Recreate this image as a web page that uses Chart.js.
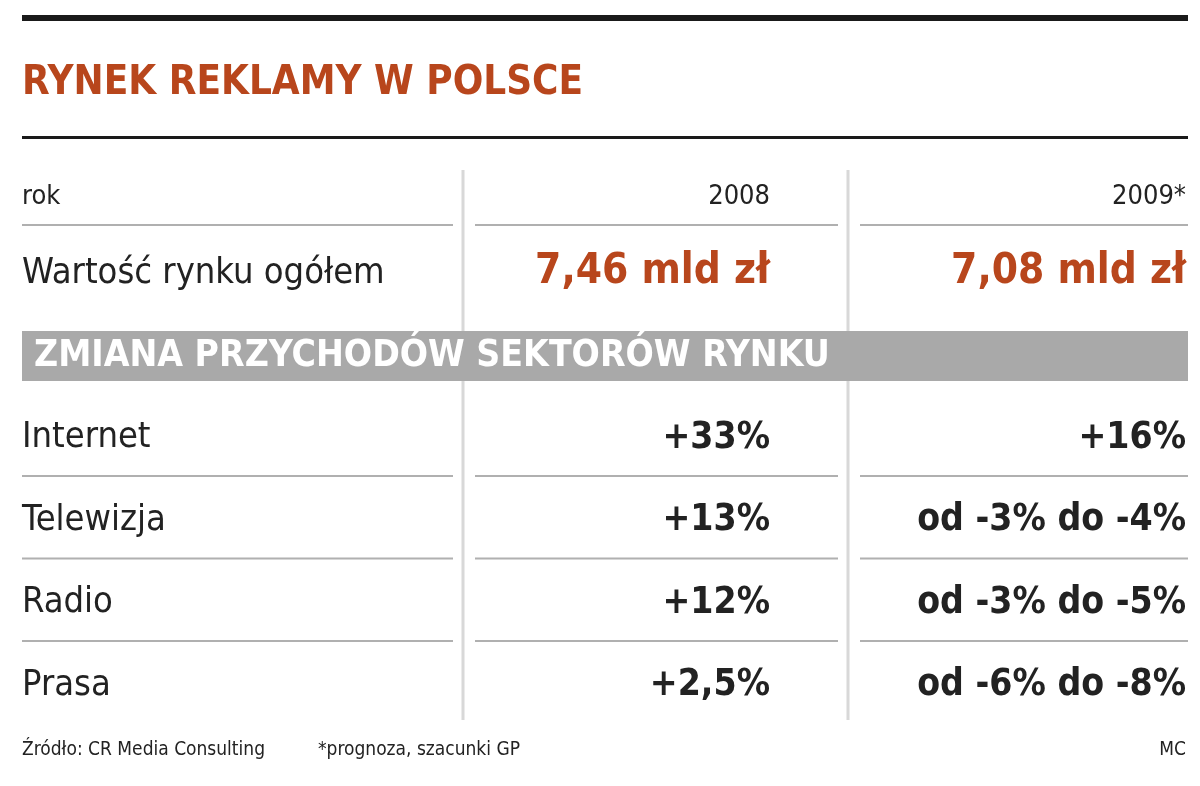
<!DOCTYPE html>
<html><head><meta charset="utf-8">
<script src="https://cdn.jsdelivr.net/npm/chart.js@4"></script>
<style>html,body{margin:0;background:#fff}canvas{display:block}</style>
</head><body>
<canvas id="chart" width="1200" height="786"></canvas>
<script>
const title = "RYNEK REKLAMY W POLSCE";
const years = ["2008", "2009*"];
const totals = ["7,46 mld zł", "7,08 mld zł"];
const sectionLabel = "ZMIANA PRZYCHODÓW SEKTORÓW RYNKU";
const sectors = ["Internet", "Telewizja", "Radio", "Prasa"];
const change2008 = ["+33%", "+13%", "+12%", "+2,5%"];
const change2009 = ["+16%", "od -3% do -4%", "od -3% do -5%", "od -6% do -8%"];
const source = "Źródło: CR Media Consulting";
const note = "*prognoza, szacunki GP";
const author = "MC";

const FONT = '"Liberation Sans Narrow", "DejaVu Sans Condensed", "Roboto", sans-serif';
const ORANGE = "#b8461c";

const tablePlugin = {
  id: "table",
  afterDraw(chart) {
    const ctx = chart.ctx;
    const x = chart.scales.x, y = chart.scales.y;
    const X = v => x.getPixelForValue(v), Y = v => y.getPixelForValue(v);
    const L = X(22), R = X(1188), c1 = X(463), c2 = X(848);
    ctx.save();
    ctx.fillStyle = "#1a1a1a";
    ctx.fillRect(L, Y(15), R - L, 6);
    ctx.fillRect(L, Y(136), R - L, 3);
    ctx.font = "bold 40px " + FONT;
    ctx.fillStyle = ORANGE;
    ctx.textBaseline = "middle";
    ctx.fillText(title, L, Y(84));
    // vertical separators
    ctx.strokeStyle = "#d8d8d8"; ctx.lineWidth = 3;
    [c1, c2].forEach(c => { ctx.beginPath(); ctx.moveTo(c, Y(170)); ctx.lineTo(c, Y(720)); ctx.stroke(); });
    const hline = yy => {
      ctx.strokeStyle = "#b0b0b0"; ctx.lineWidth = 2;
      [[L, c1 - 10], [c1 + 12, c2 - 10], [c2 + 12, R]].forEach(([a, b]) => {
        ctx.beginPath(); ctx.moveTo(a, Y(yy)); ctx.lineTo(b, Y(yy)); ctx.stroke();
      });
    };
    const col = [X(770), X(1186)];
    // header
    ctx.fillStyle = "#222"; ctx.font = "27px " + FONT;
    ctx.textAlign = "left"; ctx.fillText("rok", L, Y(197));
    ctx.textAlign = "right";
    years.forEach((t, i) => ctx.fillText(t, col[i], Y(197)));
    hline(225);
    ctx.textAlign = "left"; ctx.font = "36px " + FONT;
    ctx.fillText("Wartość rynku ogółem", L, Y(274));
    ctx.textAlign = "right"; ctx.font = "bold 42px " + FONT; ctx.fillStyle = ORANGE;
    totals.forEach((t, i) => ctx.fillText(t, col[i], Y(272)));
    // section band
    ctx.fillStyle = "#a9a9a9";
    ctx.fillRect(L, Y(331), R - L, Y(381) - Y(331));
    ctx.fillStyle = "#fff"; ctx.font = "bold 37px " + FONT; ctx.textAlign = "left";
    ctx.fillText(sectionLabel, X(34), Y(356));
    // sectors
    sectors.forEach((s, i) => {
      const yy = 438 + i * 82.5;
      ctx.fillStyle = "#222"; ctx.textAlign = "left"; ctx.font = "36px " + FONT;
      ctx.fillText(s, L, Y(yy));
      ctx.textAlign = "right"; ctx.font = "bold 37px " + FONT;
      ctx.fillText(change2008[i], col[0], Y(yy));
      ctx.fillText(change2009[i], col[1], Y(yy));
      if (i < sectors.length - 1) hline(yy + 38);
    });
    // footer
    ctx.font = "19px " + FONT; ctx.fillStyle = "#222"; ctx.textAlign = "left";
    ctx.fillText(source, L, Y(750));
    ctx.fillText(note, X(318), Y(750));
    ctx.textAlign = "right"; ctx.fillText(author, X(1186), Y(750));
    ctx.restore();
  }
};

new Chart(document.getElementById("chart"), {
  type: "scatter",
  data: { datasets: [{ data: [], pointRadius: 0 }] },
  options: {
    responsive: false, animation: false, devicePixelRatio: 1,
    layout: { padding: 0 },
    plugins: { legend: { display: false }, tooltip: { enabled: false } },
    scales: {
      x: { type: "linear", min: 0, max: 1200, display: false },
      y: { type: "linear", min: 0, max: 786, reverse: true, display: false }
    }
  },
  plugins: [tablePlugin]
});
</script>
</body></html>
